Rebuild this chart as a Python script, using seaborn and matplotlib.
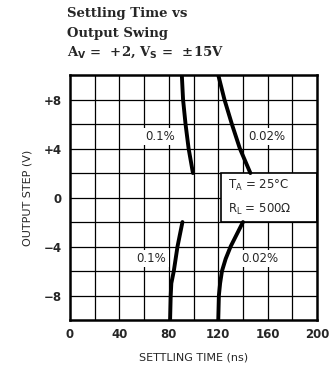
import pandas as pd
import numpy as np
import matplotlib.pyplot as plt
import seaborn as sns
from matplotlib.patches import Rectangle

# curves (settling time in ns vs output step in V)
pos_01_time = [90.5, 91.5, 93.5, 96.0, 99.5]
pos_01_step = [10, 8, 6, 4, 2]
pos_002_time = [120.0, 125.0, 131.0, 137.5, 146.0]
pos_002_step = [10, 8, 6, 4, 2]
neg_01_time = [91.0, 87.0, 84.0, 82.0, 81.5, 81.0]
neg_01_step = [-2, -4, -6, -7, -8, -10]
neg_002_time = [140.0, 135.0, 130.0, 126.0, 123.0, 121.5, 120.5, 120.0]
neg_002_step = [-2, -3, -4, -5, -6, -7, -8, -10]

x_ticks = [0, 40, 80, 120, 160, 200]
y_ticks = [8, 4, 0, -4, -8]
y_tick_labels = ['+8', '+4', '0', '\u22124', '\u22128']

frames = []
for name, t, s in [('p01', pos_01_time, pos_01_step), ('p002', pos_002_time, pos_002_step),
                   ('n01', neg_01_time, neg_01_step), ('n002', neg_002_time, neg_002_step)]:
    frames.append(pd.DataFrame({'time': t, 'step': s, 'curve': name}))
data = pd.concat(frames, ignore_index=True)

sns.set_style('white')
fig = plt.figure(figsize=(3.32, 3.77), dpi=100)
ax = fig.add_axes([0.211, 0.151, 0.744, 0.650])

# grid
for gx in range(20, 200, 20):
    ax.axvline(gx, color='black', lw=0.9, zorder=1)
for gy in range(-8, 10, 2):
    ax.axhline(gy, color='black', lw=0.9, zorder=1)

sns.lineplot(data=data, x='time', y='step', units='curve', estimator=None, sort=False,
             color='black', lw=2.8, ax=ax, zorder=3)

ax.set_xlim(0, 200)
ax.set_ylim(-10, 10)
ax.set_xticks(x_ticks)
ax.set_yticks(y_ticks)
ax.set_yticklabels(y_tick_labels)
ax.tick_params(length=0, labelsize=8.5, pad=6)
for lab in ax.get_xticklabels() + ax.get_yticklabels():
    lab.set_fontweight('bold')
for sp in ax.spines.values():
    sp.set_linewidth(1.8)
    sp.set_color('black')
    sp.set_zorder(5)

ax.set_xlabel('SETTLING TIME (ns)', fontsize=8, labelpad=8)
ax.set_ylabel('OUTPUT STEP (V)', fontsize=8, labelpad=8)

# condition box
ax.add_patch(Rectangle((122.5, -2), 77.5, 4, facecolor='white', edgecolor='black', lw=1.2, zorder=2))
ax.text(128, 1.0, 'T$_\\mathregular{A}$ = 25\u00b0C', fontsize=8.5, va='center', zorder=4)
ax.text(128, -1.0, 'R$_\\mathregular{L}$ = 500\u03a9', fontsize=8.5, va='center', zorder=4)

box = dict(facecolor='white', edgecolor='none', pad=1.5)
ax.text(73, 5, '0.1%', fontsize=8.5, ha='center', va='center', bbox=box, zorder=4)
ax.text(159, 5, '0.02%', fontsize=8.5, ha='center', va='center', bbox=box, zorder=4)
ax.text(66, -5, '0.1%', fontsize=8.5, ha='center', va='center', bbox=box, zorder=4)
ax.text(154, -5, '0.02%', fontsize=8.5, ha='center', va='center', bbox=box, zorder=4)

# title
tkw = dict(fontsize=9.5, fontweight='bold', family='DejaVu Serif', va='center', ha='left')
fig.text(67 / 332, 1 - 14 / 377, 'Settling Time vs', **tkw)
fig.text(67 / 332, 1 - 33 / 377, 'Output Swing', **tkw)
fig.text(67 / 332, 1 - 52 / 377, 'A$_\\mathbf{V}$ =  +2, V$_\\mathbf{S}$ =  \u00b115V', **tkw)

fig.savefig('out.png', dpi=100)
